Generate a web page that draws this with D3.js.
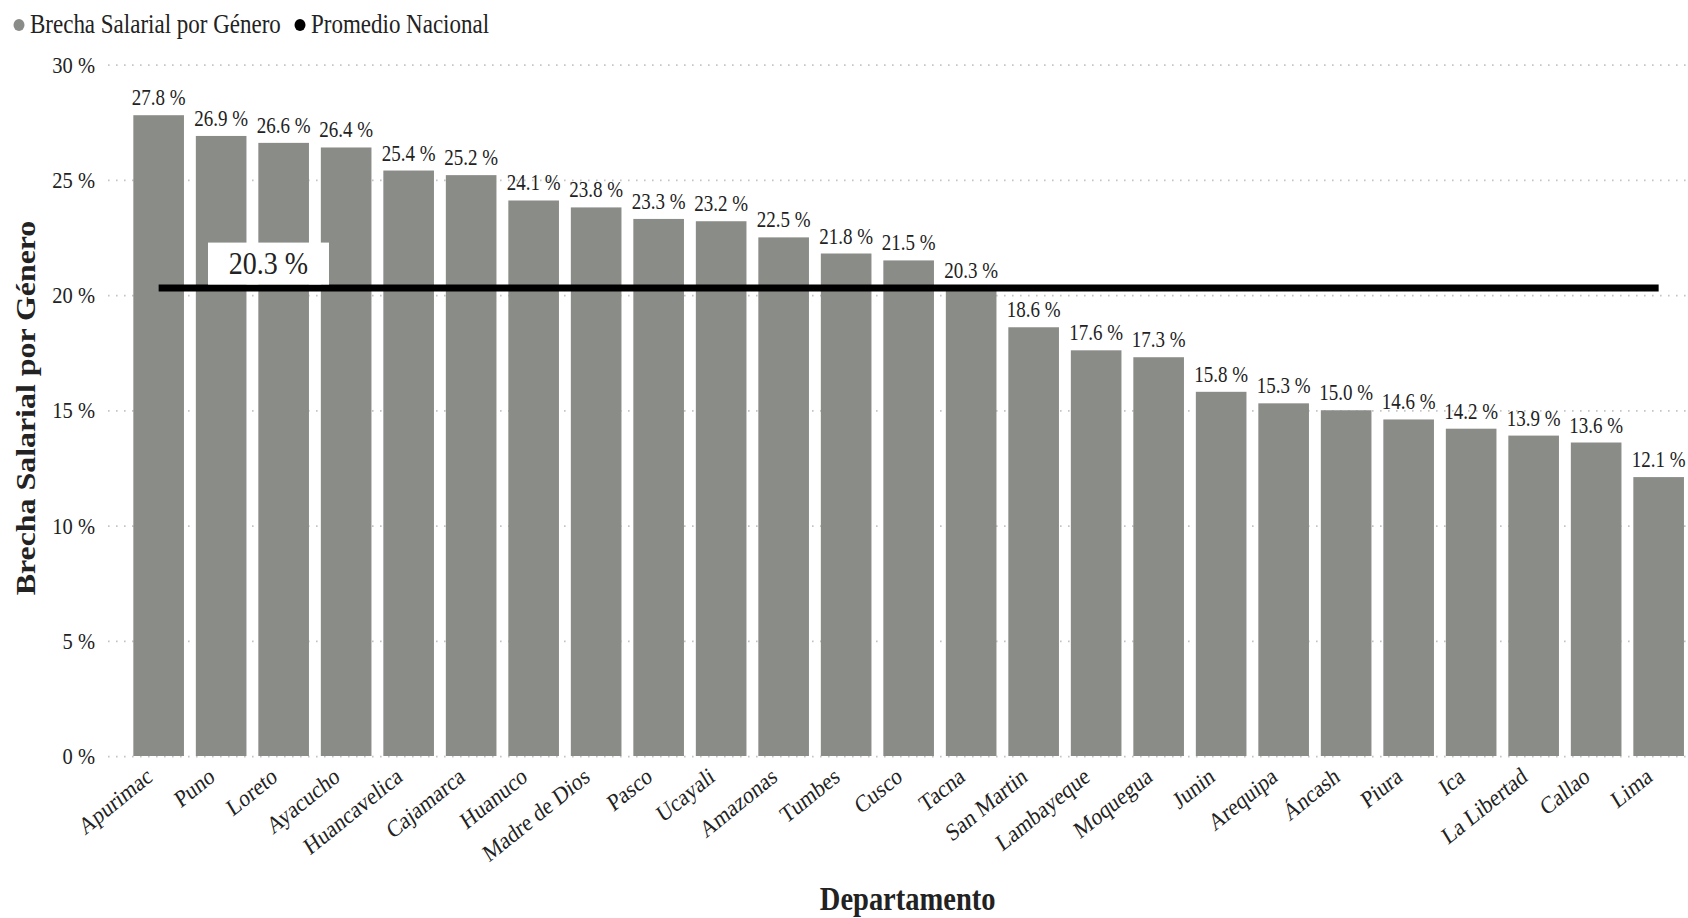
<!DOCTYPE html>
<html lang="es">
<head>
<meta charset="utf-8">
<title>Brecha Salarial por Género por Departamento</title>
<script src="https://cdn.jsdelivr.net/npm/d3@7"></script>
<style>
  html, body { margin: 0; padding: 0; background: #ffffff; }
  svg { display: block; }
  text { font-family: "Liberation Serif", "Times New Roman", serif; fill: #222222; }
</style>
</head>
<body>
<div id="chart"></div>
<script>
// Departamentos ordenados de mayor a menor brecha
const departamentos = [
  "Apurimac", "Puno", "Loreto", "Ayacucho", "Huancavelica", "Cajamarca",
  "Huanuco", "Madre de Dios", "Pasco", "Ucayali", "Amazonas", "Tumbes",
  "Cusco", "Tacna", "San Martin", "Lambayeque", "Moquegua", "Junin",
  "Arequipa", "Áncash", "Piura", "Ica", "La Libertad", "Callao", "Lima"
];
// Brecha salarial por género (%)
const brecha = [
  27.8, 26.9, 26.6, 26.4, 25.4, 25.2,
  24.1, 23.8, 23.3, 23.2, 22.5, 21.8,
  21.5, 20.3, 18.6, 17.6, 17.3, 15.8,
  15.3, 15.0, 14.6, 14.2, 13.9, 13.6, 12.1
];
// Promedio nacional (%)
const promedioNacional = 20.3;
// Marcas del eje Y (%)
const yTicks = [0, 5, 10, 15, 20, 25, 30];
const legendItems = ["Brecha Salarial por Género", "Promedio Nacional"];

const W = 1688, H = 918;
// The drawing is laid out in a slightly shorter frame and stretched to full height
const SY = 1.16;
const VH = H / SY;
const fy = v => v / SY;

const barColor = "#8a8c87";
const lineColor = "#000000";

const svg = d3.select("#chart").append("svg")
  .attr("width", W)
  .attr("height", H)
  .attr("viewBox", `0 0 ${W} ${VH}`)
  .attr("preserveAspectRatio", "none");

const data = departamentos.map((d, i) => ({ name: d, value: brecha[i] }));

const x = d3.scaleBand()
  .domain(departamentos)
  .range([127.4, 1689.9])
  .paddingInner(0.19)
  .paddingOuter(0.095);

const y = d3.scaleLinear()
  .domain([0, 30])
  .range([fy(756), fy(64.5)]);

const fmt = v => d3.format(".1f")(v) + " %";

// Gridlines and Y tick labels
const yAxis = d3.axisLeft(y)
  .tickValues(yTicks)
  .tickSize(-(1688 - 108))
  .tickPadding(13)
  .tickFormat(d => d + " %");

const gy = svg.append("g")
  .attr("transform", "translate(108,0)")
  .call(yAxis);
gy.select(".domain").remove();
gy.selectAll(".tick line")
  .attr("stroke", "#c4c4c4")
  .attr("stroke-width", 1.6)
  .attr("stroke-dasharray", "1.6,6.4");
gy.selectAll(".tick text")
  .attr("font-size", 20.5)
  .attr("fill", "#252423")
  .style("font-family", "'Liberation Serif', serif");

// Bars
svg.append("g").selectAll("rect")
  .data(data)
  .join("rect")
  .attr("x", d => x(d.name))
  .attr("y", d => y(d.value))
  .attr("width", x.bandwidth())
  .attr("height", d => y(0) - y(d.value))
  .attr("fill", barColor);

// Value labels above bars
svg.append("g").selectAll("text")
  .data(data)
  .join("text")
  .attr("x", d => x(d.name) + x.bandwidth() / 2)
  .attr("y", d => y(d.value) - fy(10))
  .attr("text-anchor", "middle")
  .attr("font-size", 19)
  .attr("fill", "#252423")
  .text(d => fmt(d.value));

// National average line, from first to last bar centre
const lineW = fy(7);
const cx0 = x(departamentos[0]) + x.bandwidth() / 2;
const cx1 = x(departamentos[departamentos.length - 1]) + x.bandwidth() / 2;
svg.append("line")
  .attr("x1", cx0)
  .attr("x2", cx1)
  .attr("y1", y(promedioNacional))
  .attr("y2", y(promedioNacional))
  .attr("stroke", lineColor)
  .attr("stroke-width", lineW);

// Average value tag
const tagW = 121, tagH = fy(42), tagX = 208;
const tagBottom = y(promedioNacional) - lineW / 2;
svg.append("rect")
  .attr("x", tagX)
  .attr("y", tagBottom - tagH)
  .attr("width", tagW)
  .attr("height", tagH)
  .attr("fill", "#ffffff");
svg.append("text")
  .attr("x", tagX + tagW / 2)
  .attr("y", tagBottom - fy(11))
  .attr("text-anchor", "middle")
  .attr("font-size", 28)
  .attr("fill", "#333333")
  .text(fmt(promedioNacional));

// X axis category labels
svg.append("g").selectAll("text")
  .data(departamentos)
  .join("text")
  .attr("transform", d => `translate(${x(d) + x.bandwidth() / 2 - 5},${y(0) + 20.5}) rotate(-35)`)
  .attr("text-anchor", "end")
  .attr("font-size", 21)
  .attr("fill", "#252423")
  .text(d => d);

// Axis titles
svg.append("text")
  .attr("x", (x.range()[0] + x.range()[1]) / 2 - 1)
  .attr("y", fy(910))
  .attr("text-anchor", "middle")
  .attr("font-size", 28.5)
  .attr("font-weight", "bold")
  .attr("fill", "#1a1a1a")
  .text("Departamento");

svg.append("text")
  .attr("transform", `translate(35,${fy(408)}) rotate(-90)`)
  .attr("text-anchor", "middle")
  .attr("font-size", 27.5)
  .attr("font-weight", "bold")
  .attr("fill", "#1a1a1a")
  .text("Brecha Salarial por Género");

// Legend
const legend = svg.append("g");
const legendColors = [barColor, lineColor];
const legendX = [19, 300];
legendItems.forEach((label, i) => {
  legend.append("ellipse")
    .attr("cx", legendX[i])
    .attr("cy", fy(25))
    .attr("rx", 5.5)
    .attr("ry", fy(6))
    .attr("fill", legendColors[i]);
  legend.append("text")
    .attr("x", legendX[i] + 11)
    .attr("y", fy(33))
    .attr("font-size", 23)
    .attr("fill", "#1a1a2a")
    .text(label);
});
</script>
</body>
</html>
